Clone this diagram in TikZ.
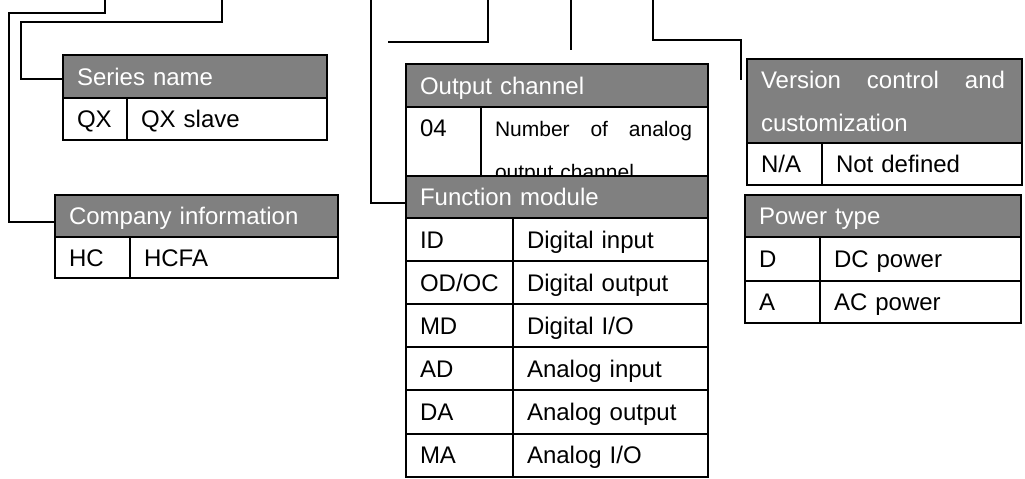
\documentclass[tikz,border=0pt]{standalone}
\usepackage{fontspec}
\setmainfont{Liberation Sans}
\begin{document}
\begin{tikzpicture}[x=0.5pt,y=-0.5pt,line width=1pt,font=\fontsize{12}{21.5}\selectfont,
	hd/.style={draw,fill=gray,text=white,anchor=north west,inner xsep=7pt,inner ysep=0pt,outer sep=0pt,align=left},
	cell/.style={draw,anchor=north west,inner xsep=7pt,inner ysep=0pt,outer sep=0pt,align=left},
	one/.style={text height=9pt,text depth=0.4pt}]
	\useasboundingbox (0,0) rectangle (1025,478);
	
	\node[hd,one,text width=118pt,minimum height=21.5pt] (serh) at (63,55) {Series name};
	\node[cell,one,text width=18pt,minimum height=21pt] (serk) at (serh.south west) {QX};
	\node[cell,one,text width=86pt,minimum height=21pt] (serv) at (serk.north east) {QX slave};
	
	\node[hd,one,text width=127.5pt,minimum height=21pt] (comh) at (55,195) {Company information};
	\node[cell,one,text width=23.5pt,minimum height=20.5pt] (comk) at (comh.south west) {HC};
	\node[cell,one,text width=90pt,minimum height=20.5pt] (comv) at (comk.north east) {HCFA};
	
	\node[hd,one,text width=137pt,minimum height=21.5pt] (outh) at (406,64) {Output channel};
	\node[cell,text width=23.5pt,minimum height=43pt] (outk) at (outh.south west) {04\\\mbox{}};
	\node[cell,font=\fontsize{10.5}{21.5}\selectfont,text depth=21.5pt,text width=99.5pt,minimum height=43pt] (outv) at (outk.north east) {\hbox to 98.5pt{Number\hfill of\hfill analog}\\output channel};
	
	\node[hd,one,text width=137pt,minimum height=21pt] (funh) at (406,176) {Function module};
	\node[cell,one,text width=39.5pt,minimum height=21.55pt] (fk1) at (funh.south west) {ID};
	\node[cell,one,text width=83.5pt,minimum height=21.55pt] (fv1) at (fk1.north east) {Digital input};
	\node[cell,one,text width=39.5pt,minimum height=21.55pt] (fk2) at (fk1.south west) {OD/OC};
	\node[cell,one,text width=83.5pt,minimum height=21.55pt] (fv2) at (fk2.north east) {Digital output};
	\node[cell,one,text width=39.5pt,minimum height=21.55pt] (fk3) at (fk2.south west) {MD};
	\node[cell,one,text width=83.5pt,minimum height=21.55pt] (fv3) at (fk3.north east) {Digital I/O};
	\node[cell,one,text width=39.5pt,minimum height=21.55pt] (fk4) at (fk3.south west) {AD};
	\node[cell,one,text width=83.5pt,minimum height=21.55pt] (fv4) at (fk4.north east) {Analog input};
	\node[cell,one,text width=39.5pt,minimum height=21.55pt] (fk5) at (fk4.south west) {DA};
	\node[cell,one,text width=83.5pt,minimum height=21.55pt] (fv5) at (fk5.north east) {Analog output};
	\node[cell,one,text width=39.5pt,minimum height=21.55pt] (fk6) at (fk5.south west) {MA};
	\node[cell,one,text width=83.5pt,minimum height=21.55pt] (fv6) at (fk6.north east) {Analog I/O};
	
	\node[hd,text width=123.5pt,minimum height=42pt] (verh) at (747,59) {\hbox to 122pt{Version\hfill control\hfill and}\\customization};
	\node[cell,one,text width=23.5pt,minimum height=21pt] (verk) at (verh.south west) {N/A};
	\node[cell,one,text width=86pt,minimum height=21pt] (verv) at (verk.north east) {Not defined};
	
	\node[hd,one,text width=124pt,minimum height=21pt] (powh) at (745,195) {Power type};
	\node[cell,one,text width=23.5pt,minimum height=22pt] (powk1) at (powh.south west) {D};
	\node[cell,one,text width=86.5pt,minimum height=22pt] (powv1) at (powk1.north east) {DC power};
	\node[cell,one,text width=23.5pt,minimum height=21pt] (powk2) at (powk1.south west) {A};
	\node[cell,one,text width=86.5pt,minimum height=21pt] (powv2) at (powk2.north east) {AC power};
	
	\coordinate (t1) at (105,0);
	\coordinate (t2) at (222,0);
	\coordinate (t3) at (371,0);
	\coordinate (t4) at (488,0);
	\coordinate (e4) at (388,42);
	\coordinate (t5) at (571,0);
	\coordinate (e5) at (571,50);
	\coordinate (t6) at (653,0);
	\coordinate (e6) at (741,80);
	
	\draw (t1) |- (9,13) |- ([yshift=-3pt]comh.west);
	\draw (t2) |- (21,22) |- ([yshift=-1.25pt]serh.west);
	\draw (t3) |- ([yshift=-3pt]funh.west);
	\draw (t4) |- (e4);
	\draw (t5) -- (e5);
	\draw (t6) |- (741,40) -- (e6);
\end{tikzpicture}
\end{document}
